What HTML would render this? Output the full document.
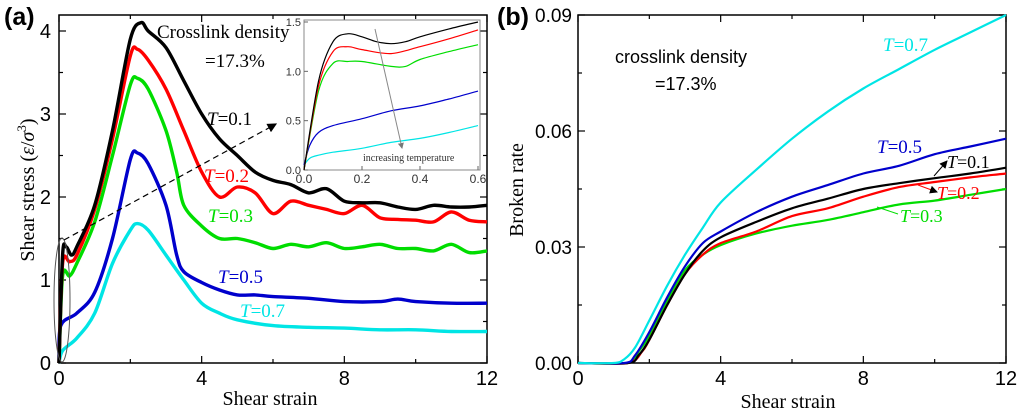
<!DOCTYPE html>
<html><head><meta charset="utf-8"><style>
body{margin:0;background:#fff;}
svg{display:block;}
text{font-family:"Liberation Sans",sans-serif;}
</style></head><body>
<svg id="c" width="1024" height="415" viewBox="0 0 1024 415" xmlns="http://www.w3.org/2000/svg">
<defs>
<marker id="ah" markerWidth="8" markerHeight="8" refX="7" refY="4" orient="auto"><path d="M0,0 L8,4 L0,8 z" fill="#000"/></marker>
<marker id="ahg" markerWidth="6" markerHeight="6" refX="5" refY="3" orient="auto"><path d="M0,0 L6,3 L0,6 z" fill="#777"/></marker>
</defs>
<g id="panelA"></g>
<g id="panelB"></g>
</svg>
<script>
// ---- Panel (a) data: shear stress vs shear strain ----
const aX_t01 = [0,0.1,0.2,0.35,0.5,1,1.5,2,2.3,2.5,3,3.5,4,4.5,5,5.5,6,6.5,7,7.5,8,8.5,9,9.5,10,10.5,11,11.5,12];
const aY_t01 = [0,1.3,1.4,1.3,1.4,1.9,2.8,3.9,4.1,4.0,3.8,3.4,3.0,2.7,2.5,2.3,2.2,2.15,2.05,2.1,1.95,1.93,1.93,1.88,1.85,1.9,1.88,1.88,1.9];
const aX_t02 = [0,0.1,0.3,0.5,1,1.5,2,2.2,2.5,3,3.5,4,4.5,5,5.5,6,6.5,7,7.5,8,8.5,9,9.5,10,10.5,11,11.5,12];
const aY_t02 = [0,1.2,1.22,1.3,1.85,2.7,3.7,3.78,3.65,3.3,2.8,2.3,2.0,2.12,2.05,1.8,1.95,1.9,1.85,1.8,1.9,1.75,1.73,1.72,1.7,1.82,1.72,1.7];
const aX_t03 = [0,0.1,0.3,0.5,1,1.5,2,2.2,2.5,3,3.3,3.5,4,4.5,5,5.5,6,6.5,7,7.5,8,8.5,9,9.5,10,10.5,11,11.5,12];
const aY_t03 = [0,1.05,1.05,1.2,1.7,2.5,3.35,3.43,3.3,2.8,2.3,1.9,1.65,1.5,1.5,1.45,1.38,1.43,1.4,1.45,1.38,1.4,1.43,1.38,1.38,1.35,1.43,1.33,1.35];
const aX_t05 = [0,0.05,0.5,1,1.5,2,2.2,2.5,3,3.3,3.5,4,4.5,5,5.5,6,7,8,9,9.5,10,11,12];
const aY_t05 = [0,0.45,0.6,0.85,1.5,2.45,2.53,2.4,1.9,1.3,1.1,0.97,0.88,0.82,0.82,0.8,0.78,0.74,0.74,0.77,0.74,0.72,0.72];
const aX_t07 = [0,0.1,0.5,1,1.5,2,2.2,2.5,3,3.5,4,4.5,5,6,7,8,9,10,11,12];
const aY_t07 = [0,0.15,0.3,0.6,1.2,1.6,1.68,1.6,1.3,1.0,0.72,0.6,0.52,0.45,0.43,0.42,0.4,0.4,0.38,0.38];
const aXTicks = [0,4,8,12];
const aYTicks = [0,1,2,3,4];
// ---- Inset data ----
const iX_t01 = [0,0.05,0.1,0.15,0.2,0.25,0.3,0.35,0.4,0.5,0.6];
const iY_t01 = [0,0.9,1.3,1.38,1.35,1.3,1.28,1.3,1.35,1.43,1.5];
const iX_t02 = [0,0.05,0.1,0.15,0.2,0.3,0.4,0.5,0.6];
const iY_t02 = [0,0.85,1.2,1.25,1.22,1.18,1.25,1.33,1.42];
const iX_t03 = [0,0.05,0.1,0.15,0.2,0.3,0.35,0.4,0.5,0.6];
const iY_t03 = [0,0.8,1.08,1.1,1.1,1.05,1.05,1.12,1.2,1.27];
const iX_t05 = [0,0.02,0.05,0.1,0.2,0.3,0.4,0.5,0.6];
const iY_t05 = [0.05,0.25,0.38,0.45,0.52,0.6,0.65,0.72,0.8];
const iX_t07 = [0,0.02,0.05,0.1,0.2,0.3,0.4,0.5,0.6];
const iY_t07 = [0.05,0.12,0.15,0.18,0.22,0.28,0.32,0.38,0.45];
const iXTicks = ["0.0","0.2","0.4","0.6"];
const iYTicks = ["0.0","0.5","1.0","1.5"];
// ---- Panel (b) data: broken rate ----
const bX_t07 = [0,1,1.3,1.6,2,2.5,3,3.5,4,5,6,7,8,9,10,11,12];
const bY_t07 = [0,0,0.001,0.004,0.011,0.02,0.028,0.035,0.0415,0.05,0.058,0.065,0.071,0.076,0.081,0.0855,0.09];
const bX_t05 = [0,1.3,1.6,2,2.5,3,3.5,4,5,6,7,8,9,10,11,12];
const bY_t05 = [0,0,0.002,0.008,0.017,0.025,0.031,0.034,0.039,0.043,0.046,0.049,0.051,0.054,0.056,0.058];
const bX_t01 = [0,1.4,1.7,2,2.5,3,3.5,4,5,6,7,8,9,10,11,12];
const bY_t01 = [0,0,0.002,0.006,0.015,0.023,0.029,0.0325,0.0365,0.04,0.0425,0.045,0.0465,0.0478,0.049,0.0505];
const bX_t02 = [0,1.4,1.8,2,2.5,3,3.5,4,5,6,7,8,9,10,11,12];
const bY_t02 = [0,0,0.003,0.006,0.015,0.023,0.028,0.031,0.034,0.038,0.04,0.043,0.0455,0.0468,0.048,0.049];
const bX_t03 = [0,1.4,1.7,2,2.5,3,3.5,4,5,6,7,8,9,10,11,12];
const bY_t03 = [0,0,0.003,0.007,0.016,0.024,0.028,0.0305,0.0335,0.0355,0.037,0.039,0.041,0.042,0.0435,0.045];
const bXTicks = [0,4,8,12];
const bYTicks = [0,0.03,0.06,0.09];
const bYLabels = ["0.00","0.03","0.06","0.09"];

const NS="http://www.w3.org/2000/svg";
function mk(parent,tag,attrs,txt){const e=document.createElementNS(NS,tag);for(const k in attrs)e.setAttribute(k,attrs[k]);if(txt!==undefined)e.textContent=txt;parent.appendChild(e);return e;}
function lin(d0,d1,r0,r1){return v=>r0+(v-d0)/(d1-d0)*(r1-r0);}
function pathD(xs,ys,sx,sy){
 const P=xs.map((x,i)=>[sx(x),sy(ys[i])]);
 let d='M'+P[0][0].toFixed(1)+','+P[0][1].toFixed(1);
 for(let i=0;i<P.length-1;i++){
  const p0=P[Math.max(0,i-1)],p1=P[i],p2=P[i+1],p3=P[Math.min(P.length-1,i+2)];
  const t=0.16;
  const c1=[p1[0]+(p2[0]-p0[0])*t,p1[1]+(p2[1]-p0[1])*t];
  const c2=[p2[0]-(p3[0]-p1[0])*t,p2[1]-(p3[1]-p1[1])*t];
  d+=' C'+c1[0].toFixed(1)+','+c1[1].toFixed(1)+' '+c2[0].toFixed(1)+','+c2[1].toFixed(1)+' '+p2[0].toFixed(1)+','+p2[1].toFixed(1);
 }
 return d;}

// ===== Panel A =====
const A=document.getElementById('panelA');
const ax=lin(0,12,59,487), ay=lin(0,4,363,31);
const AT=15;
let fr=mk(A,'rect',{x:59,y:AT,width:428,height:348,fill:'none',stroke:'#000','stroke-width':1.5});


for(let v=0;v<=12;v+=2){const x=ax(v),len=v%4===0?7:4;
 mk(A,'line',{x1:x,y1:363,x2:x,y2:363-len,stroke:'#000','stroke-width':1.2});
 mk(A,'line',{x1:x,y1:AT,x2:x,y2:AT+len,stroke:'#000','stroke-width':1.2});}
for(let v=0;v<=4.01;v+=0.5){const y=ay(v),len=Math.abs(v-Math.round(v))<0.01?7:4;
 mk(A,'line',{x1:59,y1:y,x2:59+len,y2:y,stroke:'#000','stroke-width':1.2});
 mk(A,'line',{x1:487,y1:y,x2:487-len,y2:y,stroke:'#000','stroke-width':1.2});}
aXTicks.forEach(v=>{const t=mk(A,'text',{x:ax(v),y:385,'font-size':20,'text-anchor':'middle'},String(v));
 
 });
aYTicks.forEach(v=>{const t=mk(A,'text',{x:51,y:ay(v)+7,'font-size':20,'text-anchor':'end'},String(v));
 
 });
const aSeries=[[aX_t07,aY_t07,'#00e5e5','t07'],[aX_t05,aY_t05,'#0000cc','t05'],[aX_t03,aY_t03,'#00dd00','t03'],[aX_t02,aY_t02,'#ff0000','t02'],[aX_t01,aY_t01,'#000000','t01']];
aSeries.forEach(s=>{const p=mk(A,'path',{d:pathD(s[0],s[1],ax,ay),fill:'none',stroke:s[2],'stroke-width':3.4,'stroke-linejoin':'round'});
 
 });
mk(A,'ellipse',{cx:62,cy:300,rx:8,ry:62,fill:'none',stroke:'#555','stroke-width':1});
mk(A,'line',{x1:64,y1:240,x2:276,y2:124,stroke:'#000','stroke-width':1.2,'stroke-dasharray':'6,4','marker-end':'url(#ah)'});
// inset
const ix=lin(0,0.6,304,478), iy=lin(0,1.5,170,22);
let ib=mk(A,'rect',{x:304,y:20,width:176,height:150,fill:'#fff',stroke:'#888','stroke-width':1});


[0,0.2,0.4,0.6].forEach((v,i)=>{mk(A,'line',{x1:ix(v),y1:170,x2:ix(v),y2:166,stroke:'#666'});
 const t=mk(A,'text',{x:ix(v),y:183,'font-size':12,'text-anchor':'middle',fill:'#333'},iXTicks[i]);
 
 });
[0,0.5,1,1.5].forEach((v,i)=>{mk(A,'line',{x1:304,y1:iy(v),x2:308,y2:iy(v),stroke:'#666'});
 const t=mk(A,'text',{x:301,y:iy(v)+4,'font-size':11,'text-anchor':'end',fill:'#333'},iYTicks[i]);
 
 });
const iSeries=[[iX_t07,iY_t07,'#00e5e5','t07'],[iX_t05,iY_t05,'#0000cc','t05'],[iX_t03,iY_t03,'#00dd00','t03'],[iX_t02,iY_t02,'#ff0000','t02'],[iX_t01,iY_t01,'#000000','t01']];
iSeries.forEach(s=>{const p=mk(A,'path',{d:pathD(s[0],s[1],ix,iy),fill:'none',stroke:s[2],'stroke-width':1.2});
 
 });
mk(A,'line',{x1:375,y1:29,x2:402,y2:148,stroke:'#888','stroke-width':1,'marker-end':'url(#ahg)'});
// ===== Panel B =====
const B=document.getElementById('panelB');
const bx=lin(0,12,578,1006), by=lin(0,0.09,363,15);
let fb=mk(B,'rect',{x:578,y:15,width:428,height:348,fill:'none',stroke:'#000','stroke-width':1.5});


for(let v=0;v<=12;v+=2){const x=bx(v),len=v%4===0?7:4;
 mk(B,'line',{x1:x,y1:363,x2:x,y2:363-len,stroke:'#000','stroke-width':1.2});
 mk(B,'line',{x1:x,y1:15,x2:x,y2:15+len,stroke:'#000','stroke-width':1.2});}
for(let k=0;k<=6;k++){const y=by(k*0.015),len=k%2===0?7:4;
 mk(B,'line',{x1:578,y1:y,x2:578+len,y2:y,stroke:'#000','stroke-width':1.2});
 mk(B,'line',{x1:1006,y1:y,x2:1006-len,y2:y,stroke:'#000','stroke-width':1.2});}
bXTicks.forEach(v=>{const t=mk(B,'text',{x:bx(v),y:385,'font-size':20,'text-anchor':'middle'},String(v));
 
 });
bYTicks.forEach((v,i)=>{const t=mk(B,'text',{x:572,y:by(v)+7,'font-size':19,'text-anchor':'end'},bYLabels[i]);
 
 });
const bSeries=[[bX_t03,bY_t03,'#00dd00','t03'],[bX_t02,bY_t02,'#ff0000','t02'],[bX_t01,bY_t01,'#000000','t01'],[bX_t05,bY_t05,'#0000cc','t05'],[bX_t07,bY_t07,'#00e5e5','t07']];
bSeries.forEach(s=>{const p=mk(B,'path',{d:pathD(s[0],s[1],bx,by),fill:'none',stroke:s[2],'stroke-width':2.2,'stroke-linejoin':'round'});
 
 });
mk(B,'line',{x1:934,y1:176,x2:947,y2:161,stroke:'#000','stroke-width':1,'marker-end':'url(#ah)'});
mk(B,'line',{x1:918,y1:185,x2:937,y2:192,stroke:'#f00','stroke-width':1,'marker-end':'url(#ah)'});
mk(B,'line',{x1:877,y1:207,x2:898,y2:214,stroke:'#0d0','stroke-width':1});
</script>
<svg width="1024" height="415" style="position:absolute;left:0;top:0">
<text x="4" y="25" font-size="25" font-weight="bold" style="font-family:'Liberation Sans',sans-serif">(a)</text>
<text x="497" y="25" font-size="25" font-weight="bold" style="font-family:'Liberation Sans',sans-serif">(b)</text>
<text transform="translate(34,190) rotate(-90)" font-size="20" text-anchor="middle" style="font-family:'Liberation Serif',serif">Shear stress (<tspan font-style="italic">ε</tspan>/<tspan font-style="italic">σ</tspan><tspan dy="-8" font-size="13">3</tspan><tspan dy="8">)</tspan></text>
<text x="270" y="405" font-size="20" text-anchor="middle" style="font-family:'Liberation Serif',serif">Shear strain</text>
<text x="788" y="408" font-size="20" text-anchor="middle" style="font-family:'Liberation Serif',serif">Shear strain</text>
<text transform="translate(523,190) rotate(-90)" font-size="20" text-anchor="middle" style="font-family:'Liberation Serif',serif">Broken rate</text>
<text x="157" y="38" font-size="19" style="font-family:'Liberation Serif',serif">Crosslink density</text>
<text x="205" y="67" font-size="19" style="font-family:'Liberation Serif',serif">=17.3%</text>
<text x="207" y="125" font-size="19" style="font-family:'Liberation Serif',serif"><tspan font-style="italic">T</tspan>=0.1</text>
<text x="204" y="182" font-size="19" fill="#ff0000" style="font-family:'Liberation Serif',serif"><tspan font-style="italic">T</tspan>=0.2</text>
<text x="208" y="222" font-size="19" fill="#00dd00" style="font-family:'Liberation Serif',serif"><tspan font-style="italic">T</tspan>=0.3</text>
<text x="218" y="283" font-size="19" fill="#0000cc" style="font-family:'Liberation Serif',serif"><tspan font-style="italic">T</tspan>=0.5</text>
<text x="240" y="317" font-size="19" fill="#00e5e5" style="font-family:'Liberation Serif',serif"><tspan font-style="italic">T</tspan>=0.7</text>
<text x="363" y="161" font-size="10" fill="#333" style="font-family:'Liberation Serif',serif">increasing temperature</text>
<text x="615" y="63" font-size="18" style="font-family:'Liberation Sans',sans-serif">crosslink density</text>
<text x="655" y="90" font-size="18" style="font-family:'Liberation Sans',sans-serif">=17.3%</text>
<text x="883" y="51" font-size="19" fill="#00e5e5" style="font-family:'Liberation Serif',serif"><tspan font-style="italic">T</tspan>=0.7</text>
<text x="877" y="153" font-size="19" fill="#0000cc" style="font-family:'Liberation Serif',serif"><tspan font-style="italic">T</tspan>=0.5</text>
<text x="947" y="168" font-size="18" style="font-family:'Liberation Serif',serif"><tspan font-style="italic">T</tspan>=0.1</text>
<text x="937" y="199" font-size="18" fill="#ff0000" style="font-family:'Liberation Serif',serif"><tspan font-style="italic">T</tspan>=0.2</text>
<text x="900" y="222" font-size="18" fill="#00dd00" style="font-family:'Liberation Serif',serif"><tspan font-style="italic">T</tspan>=0.3</text>
</svg>
</body></html>
